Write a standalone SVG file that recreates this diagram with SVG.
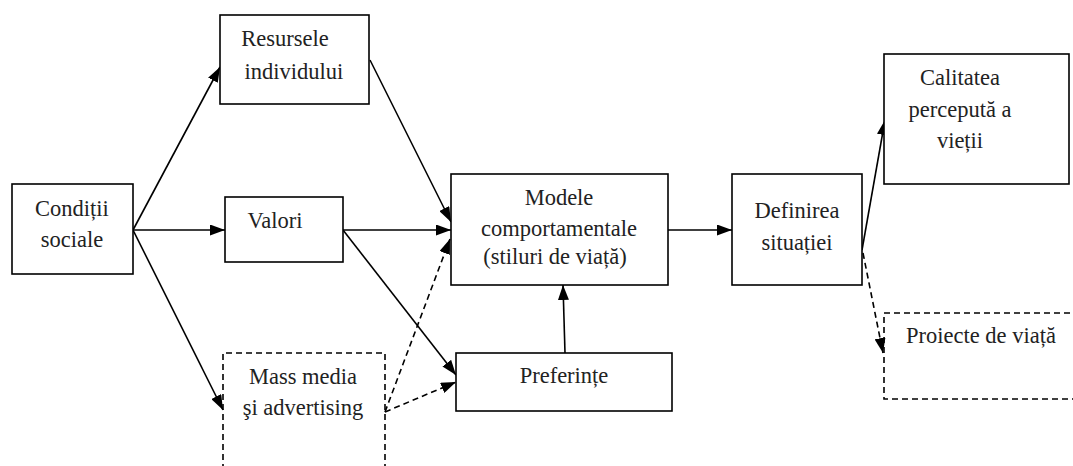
<svg xmlns="http://www.w3.org/2000/svg" width="1073" height="466" viewBox="0 0 1073 466">
<style>
.box{fill:#fff;stroke:#000;stroke-width:1.6}
.dbox{fill:none;stroke:#000;stroke-width:1.6;stroke-dasharray:6 4}
.t{font-family:"Liberation Serif","Times New Roman",serif;font-size:22.5px;fill:#222;text-anchor:middle}
.c{fill:none;stroke:#000;stroke-width:1.6}
.d{fill:none;stroke:#000;stroke-width:1.6;stroke-dasharray:6 4}
</style>
<defs>
<marker id="ah" markerUnits="userSpaceOnUse" viewBox="0 0 15 11" refX="15" refY="5.5" markerWidth="15" markerHeight="11" orient="auto">
<path d="M0,0 L15,5.5 L0,11 Z" fill="#000"/>
</marker>
</defs>
<rect width="1073" height="466" fill="#fff"/>
<g id="connectors">
<line class="c" x1="133" y1="230" x2="220" y2="67" marker-end="url(#ah)"/>
<line class="c" x1="133" y1="230" x2="225" y2="230" marker-end="url(#ah)"/>
<line class="c" x1="133" y1="230" x2="223" y2="410" marker-end="url(#ah)"/>
<line class="c" x1="370" y1="60" x2="451" y2="222" marker-end="url(#ah)"/>
<line class="c" x1="343" y1="230" x2="451" y2="230" marker-end="url(#ah)"/>
<line class="c" x1="343" y1="230" x2="456" y2="375" marker-end="url(#ah)"/>
<line class="d" x1="385" y1="412" x2="450" y2="239" marker-end="url(#ah)"/>
<line class="d" x1="385" y1="412" x2="456" y2="382" marker-end="url(#ah)"/>
<line class="c" x1="565" y1="353" x2="563" y2="285" marker-end="url(#ah)"/>
<line class="c" x1="668" y1="230" x2="732" y2="230" marker-end="url(#ah)"/>
<line class="c" x1="862" y1="250" x2="885" y2="120" marker-end="url(#ah)"/>
<line class="d" x1="863" y1="253" x2="883" y2="353" marker-end="url(#ah)"/>
</g>
<g id="conditii">
<rect class="box" x="12" y="184" width="121" height="90"/>
<text class="t" x="72" y="216">Condiții</text>
<text class="t" x="72" y="247">sociale</text>
</g>
<g id="resursele">
<rect class="box" x="220" y="15" width="149" height="89"/>
<text class="t" x="285" y="46">Resursele</text>
<text class="t" x="294" y="79">individului</text>
</g>
<g id="valori">
<rect class="box" x="225" y="197" width="118" height="65"/>
<text class="t" x="275" y="228">Valori</text>
</g>
<g id="massmedia">
<path class="dbox" d="M223,470 L223,353 L385,353 L385,470"/>
<text class="t" x="303" y="384">Mass media</text>
<text class="t" x="303" y="415">şi advertising</text>
</g>
<g id="modele">
<rect class="box" x="451" y="174" width="217" height="111"/>
<text class="t" x="559" y="205">Modele</text>
<text class="t" x="559" y="236">comportamentale</text>
<text class="t" x="555" y="264">(stiluri de viață)</text>
</g>
<g id="preferinte">
<rect class="box" x="456" y="353" width="216" height="58"/>
<text class="t" x="564" y="383">Preferințe</text>
</g>
<g id="definirea">
<rect class="box" x="732" y="174" width="130" height="111"/>
<text class="t" x="797" y="218">Definirea</text>
<text class="t" x="797" y="250">situației</text>
</g>
<g id="calitatea">
<rect class="box" x="884" y="54" width="185" height="130"/>
<text class="t" x="960" y="85">Calitatea</text>
<text class="t" x="960" y="117">percepută a</text>
<text class="t" x="960" y="148">vieții</text>
</g>
<g id="proiecte">
<path class="dbox" d="M1080,313 L884,313 L884,399 L1080,399"/>
<text class="t" x="981" y="343">Proiecte de viață</text>
</g>
</svg>
